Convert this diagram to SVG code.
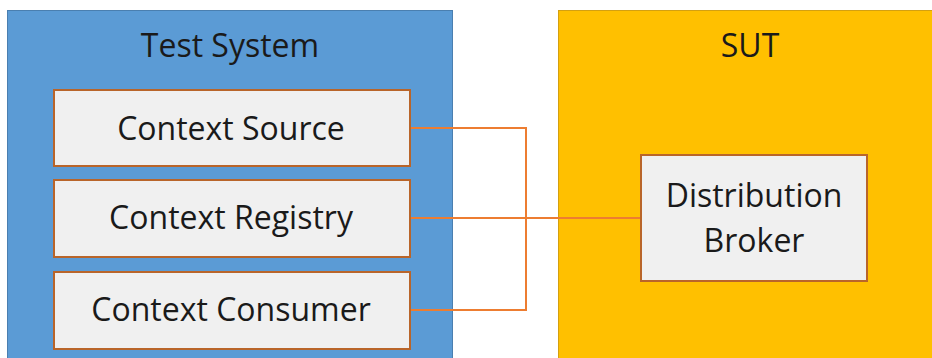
<svg xmlns="http://www.w3.org/2000/svg" width="932" height="358" viewBox="0 0 932 358">
  <style>
    .label { font-family: "Open Sans", "Liberation Sans", sans-serif; font-size: 32px; fill: #1a1a1a; text-anchor: middle; }
    .item { fill: #f0f0f0; stroke: #b9652a; stroke-width: 2; }
    .wire { fill: none; stroke: #ed7d31; stroke-width: 2; }
  </style>
  <rect width="932" height="358" fill="#ffffff"/>

  <g id="test-system">
    <rect x="7.5" y="10.5" width="445" height="360" fill="#5b9bd5" stroke="#4a7fb0" stroke-width="1"/>
    <text class="label" x="230" y="57">Test System</text>
  </g>

  <g id="sut">
    <rect x="558.5" y="10.5" width="390" height="360" fill="#ffc000" stroke="#d4a010" stroke-width="1"/>
    <text class="label" x="750" y="57">SUT</text>
  </g>

  <g id="connectors">
    <polyline class="wire" points="410,128 526,128 526,310 410,310"/>
    <line class="wire" x1="410" y1="218" x2="641" y2="218"/>
  </g>

  <g id="context-source">
    <rect class="item" x="54" y="90" width="356" height="76"/>
    <text class="label" x="231" y="140">Context Source</text>
  </g>

  <g id="context-registry">
    <rect class="item" x="54" y="180" width="356" height="77"/>
    <text class="label" x="231" y="229">Context Registry</text>
  </g>

  <g id="context-consumer">
    <rect class="item" x="54" y="272" width="356" height="77"/>
    <text class="label" x="231" y="321">Context Consumer</text>
  </g>

  <g id="distribution-broker">
    <rect class="item" x="641" y="155" width="226" height="126"/>
    <text class="label" x="754" y="207">Distribution</text>
    <text class="label" x="754" y="252">Broker</text>
  </g>
</svg>
